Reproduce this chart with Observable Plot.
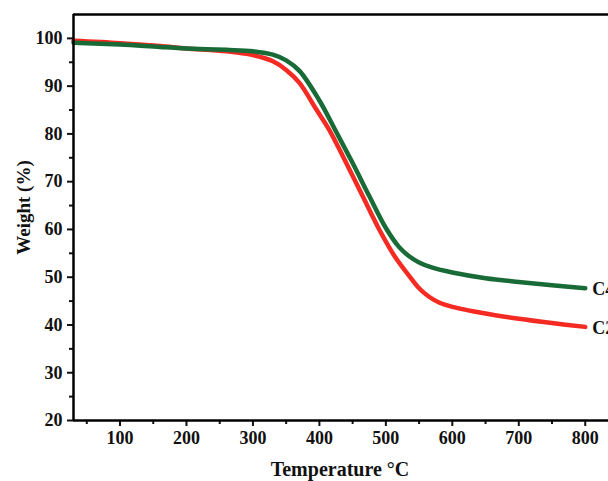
<!DOCTYPE html>
<html>
<head>
<meta charset="utf-8">
<script src="https://cdn.jsdelivr.net/npm/d3@7"></script>
<script src="https://cdn.jsdelivr.net/npm/@observablehq/plot@0.6"></script>
<style>
  html, body { margin: 0; padding: 0; background: #fff; overflow: hidden; }
  #chart svg { overflow: hidden; }
</style>
</head>
<body>
<div id="chart"></div>
<script>
const tempC2 = [30, 100, 160, 200, 260, 300, 330, 350, 370, 395, 415, 440, 465, 490, 515, 535, 550, 565, 580, 600, 650, 700, 750, 800];
const weightC2 = [99.5, 99.0, 98.4, 97.9, 97.3, 96.5, 95.2, 93.4, 90.7, 85.2, 80.8, 74.0, 67.0, 60.0, 54.0, 50.3, 47.7, 45.9, 44.7, 43.8, 42.4, 41.3, 40.4, 39.6];
const tempC4 = [30, 100, 160, 200, 260, 300, 330, 350, 370, 400, 425, 450, 475, 500, 520, 535, 550, 570, 600, 650, 700, 750, 800];
const weightC4 = [99.1, 98.7, 98.2, 97.9, 97.6, 97.3, 96.6, 95.4, 93.2, 87.0, 80.5, 73.9, 67.0, 60.3, 56.3, 54.4, 53.1, 52.0, 51.0, 49.8, 49.0, 48.3, 47.7];
const seriesNames = ["C2", "C4"];
const seriesColors = ["#f52a22", "#186a37"];
const xTicks = [100, 200, 300, 400, 500, 600, 700, 800];
const xMinorTicks = [50, 150, 250, 350, 450, 550, 650, 750];
const yTicks = [20, 30, 40, 50, 60, 70, 80, 90, 100];
const yMinorTicks = [25, 35, 45, 55, 65, 75, 85, 95];
const xDomain = [30, 835];
const yDomain = [20, 105];

const c2 = tempC2.map((t, i) => ({series: "C2", t, w: weightC2[i]}));
const c4 = tempC4.map((t, i) => ({series: "C4", t, w: weightC4[i]}));
const ends = [c4[c4.length - 1], c2[c2.length - 1]];

const font = "'Liberation Serif', 'Times New Roman', serif";

const chart = Plot.plot({
  width: 608,
  height: 481,
  marginLeft: 73,
  marginRight: 0,
  marginTop: 14,
  marginBottom: 61,
  style: {fontFamily: font, fontWeight: "bold", fontSize: "18px", color: "#111", background: "#fff"},
  x: {domain: xDomain},
  y: {domain: yDomain},
  color: {domain: seriesNames, range: seriesColors},
  marks: [
    Plot.axisX({ticks: xTicks, tickSize: 6, tickPadding: 5, strokeWidth: 2, fontSize: 18, fontWeight: "bold", label: null}),
    Plot.axisX({ticks: xMinorTicks, tickSize: 4, strokeWidth: 2, text: null, label: null}),
    Plot.axisY({ticks: yTicks, tickSize: 6, tickPadding: 5, strokeWidth: 2, fontSize: 18, fontWeight: "bold", label: null}),
    Plot.axisY({ticks: yMinorTicks, tickSize: 4, strokeWidth: 2, text: null, label: null}),
    Plot.line(c2, {x: "t", y: "w", stroke: "series", strokeWidth: 4.5, curve: "catmull-rom"}),
    Plot.line(c4, {x: "t", y: "w", stroke: "series", strokeWidth: 4.5, curve: "catmull-rom"}),
    Plot.ruleX([xDomain[0]], {stroke: "#000", strokeWidth: 2.5}),
    Plot.ruleY([yDomain[0]], {stroke: "#000", strokeWidth: 2.5}),
    Plot.ruleY([yDomain[1]], {stroke: "#000", strokeWidth: 2.5}),
    Plot.text(ends, {x: "t", y: "w", text: "series", textAnchor: "start", dx: 7, dy: 1, fontSize: 18, fontWeight: "bold", fill: "#111"}),
    Plot.text(["Temperature °C"], {frameAnchor: "bottom", textAnchor: "middle", lineAnchor: "middle", dy: 49, dx: -1, fontSize: 20, fontWeight: "bold", fill: "#111"}),
    Plot.text(["Weight (%)"], {frameAnchor: "left", textAnchor: "middle", lineAnchor: "middle", dx: -50, dy: -10, rotate: -90, fontSize: 19, fontWeight: "bold", fill: "#111"})
  ]
});
document.getElementById("chart").append(chart);
</script>
</body>
</html>
